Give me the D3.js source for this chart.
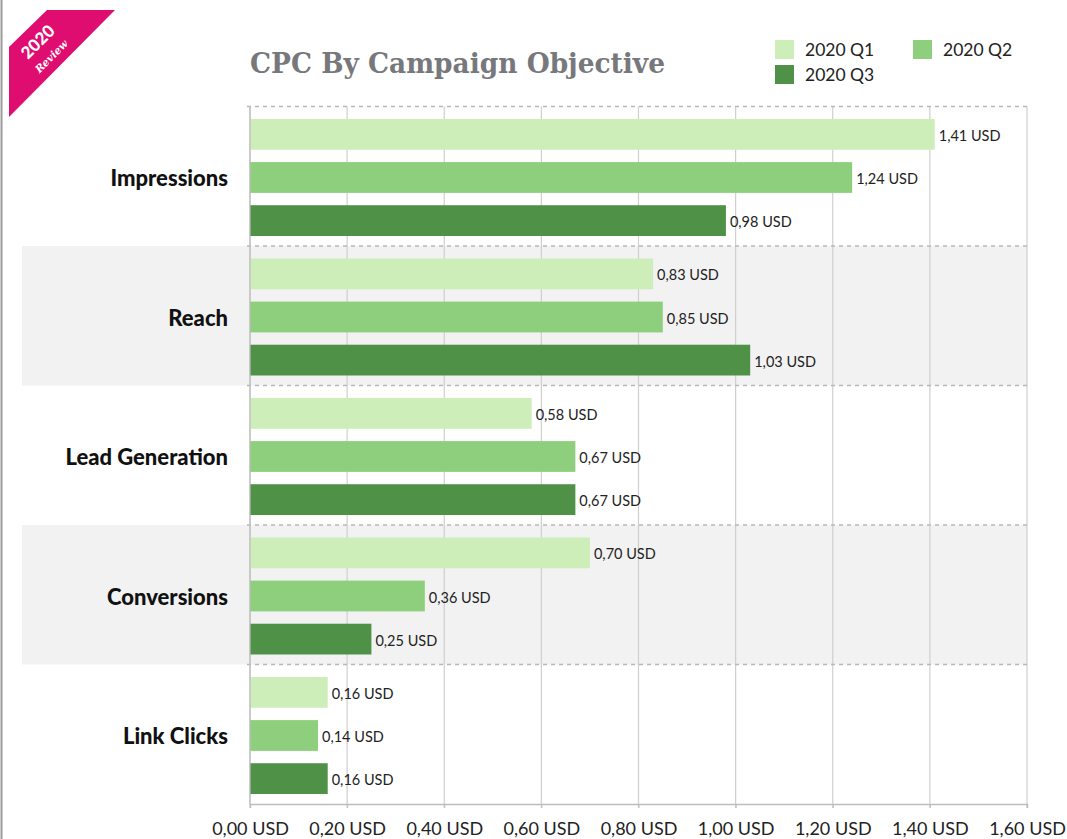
<!DOCTYPE html>
<html><head><meta charset="utf-8">
<script src="https://cdn.jsdelivr.net/npm/d3@7"></script>
<style>body{margin:0;background:#fff;}svg{display:block;}</style>
</head><body>
<svg id="c" width="1067" height="839"></svg>
<script>
const categories = ["Impressions","Reach","Lead Generation","Conversions","Link Clicks"];
const seriesNames = ["2020 Q1","2020 Q2","2020 Q3"];
const q1 = [1.41, 0.83, 0.58, 0.70, 0.16];
const q2 = [1.24, 0.85, 0.67, 0.36, 0.14];
const q3 = [0.98, 1.03, 0.67, 0.25, 0.16];
const tickValues = [0,0.2,0.4,0.6,0.8,1.0,1.2,1.4,1.6];
const colors = ["#cdeeb9","#8dcf7c","#4e9147"];
const seriesValues = [q1,q2,q3];

(function(){
const fmt = v => v.toFixed(2).replace('.', ',') + ' USD';
const svg = d3.select('#c');
const pL = 250, pR = 1027, pT = 106.5, pB = 804;

const x = d3.scaleLinear().domain([0,1.6]).range([pL,pR]);
const y = d3.scaleBand().domain(categories).range([pT,pB]).padding(0);
const yi = d3.scaleBand().domain(seriesNames).range([12.5, 129.5]).paddingInner(0.286).paddingOuter(0);

// left border
svg.append('line').attr('x1',1.5).attr('x2',1.5).attr('y1',0).attr('y2',839).attr('stroke','#9a9a9a').attr('stroke-width',2);

// alternating backgrounds
svg.selectAll('rect.bg').data(categories.filter((d,i)=>i%2===1)).join('rect')
  .attr('x',22).attr('width',pR-22).attr('y',d=>y(d)).attr('height',y.bandwidth()).attr('fill','#f2f2f2');

// vertical grid
svg.selectAll('line.grid').data(tickValues).join('line')
  .attr('x1',d=>x(d)).attr('x2',d=>x(d)).attr('y1',pT).attr('y2',pB+4)
  .attr('stroke','#cfcfcf').attr('stroke-width',1.2);

// dashed band boundaries
svg.selectAll('line.dash').data(categories).join('line')
  .attr('x1',pL-3).attr('x2',pR).attr('y1',d=>y(d)).attr('y2',d=>y(d))
  .attr('stroke','#b8b8b8').attr('stroke-width',1.3).attr('stroke-dasharray','4,4');

// bars
const g = svg.selectAll('g.cat').data(categories).join('g').attr('transform',d=>`translate(0,${y(d)})`);
seriesNames.forEach((s,si)=>{
  g.append('rect').attr('x',pL).attr('y',yi(s)).attr('height',yi.bandwidth())
    .attr('width',(d,i)=>x(seriesValues[si][i])-pL).attr('fill',colors[si]);
  g.append('text').attr('x',(d,i)=>x(seriesValues[si][i])+4).attr('y',yi(s)+yi.bandwidth()/2)
    .attr('dy','0.45em').attr('font-family','Lato, sans-serif').attr('font-size',14.5)
    .attr('fill','#222').text((d,i)=>fmt(seriesValues[si][i]));
});

// category labels
svg.selectAll('text.cat').data(categories).join('text')
  .attr('x',228).attr('y',d=>y(d)+y.bandwidth()/2).attr('dy','0.45em').attr('text-anchor','end')
  .attr('font-family','Lato, sans-serif').attr('font-weight',900).attr('font-size',22).attr('fill','#111')
  .text(d=>d);

// left axis line
svg.append('line').attr('x1',pL).attr('x2',pL).attr('y1',pT).attr('y2',pB).attr('stroke','#bdbdbd').attr('stroke-width',1.2);

// bottom axis
const ax = svg.append('g').attr('transform',`translate(0,${pB})`)
  .call(d3.axisBottom(x).tickValues(tickValues).tickSize(4).tickPadding(14).tickFormat(fmt));
ax.select('.domain').attr('stroke','#bdbdbd').attr('stroke-width',1.5);
ax.selectAll('.tick line').attr('stroke','#bdbdbd');
ax.selectAll('.tick text').attr('font-family','Lato, sans-serif').attr('font-size',18).attr('fill','#222');

// title
svg.append('text').attr('x',250).attr('y',73).attr('font-family','"DejaVu Serif", serif').attr('font-weight',700)
  .attr('font-size',28).attr('fill','#77787c').attr('textLength',415).attr('lengthAdjust','spacingAndGlyphs')
  .text('CPC By Campaign Objective');

// legend
const legPos = [[775,40],[913,40],[775,65]];
seriesNames.forEach((s,i)=>{
  svg.append('rect').attr('x',legPos[i][0]).attr('y',legPos[i][1]).attr('width',19).attr('height',19).attr('fill',colors[i]);
  svg.append('text').attr('x',legPos[i][0]+30).attr('y',legPos[i][1]+9.5).attr('dy','0.35em')
    .attr('font-family','Lato, sans-serif').attr('font-size',17.5).attr('fill','#222').text(s);
});

// ribbon
svg.append('polygon').attr('points','47,10 115,10 9,117 9,47').attr('fill','#df0d6f');
svg.append('text').attr('transform','translate(42,46) rotate(-45)').attr('text-anchor','middle')
  .attr('font-family','Lato, sans-serif').attr('font-weight',900).attr('font-size',17).attr('fill','#fff').text('2020');
svg.append('text').attr('transform','translate(54,59) rotate(-45)').attr('text-anchor','middle')
  .attr('font-family','"DejaVu Serif", serif').attr('font-style','italic').attr('font-weight',700).attr('font-size',10.5).attr('fill','#fff').text('Review');
})();
</script>
</body></html>
